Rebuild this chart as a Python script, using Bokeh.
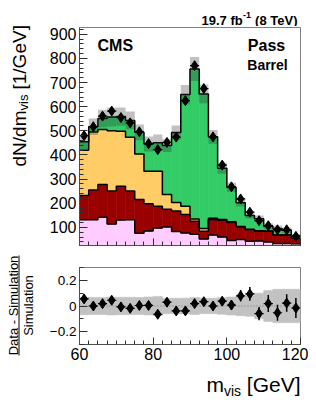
import math
from bokeh.plotting import figure
from bokeh.models import Label, Range1d, FixedTicker
from bokeh.layouts import column, row
from bokeh.embed import file_html
from bokeh.resources import INLINE

# ---------------- data ----------------
bin_lo = [60.0, 62.5, 65.0, 67.5, 70.0, 72.5, 75.0, 77.5, 80.0, 82.5, 85.0, 87.5,
          90.0, 92.5, 95.0, 97.5, 100.0, 102.5, 105.0, 107.5, 110.0, 112.5, 115.0, 117.5]
bin_width = 2.5

data = [480, 517, 561, 582, 555, 533, 496, 447, 422, 452, 474, 625,
        770, 675, 475, 358, 268, 218, 163, 128, 107, 90, 90, 63]
data_err = [14, 14, 15, 15, 15, 15, 14, 13, 13, 13, 14, 16,
            18, 16, 14, 12, 10, 9, 8, 7, 7, 6, 6, 5]

comp_pink = [132, 132, 142, 114, 131, 132, 76, 85, 97, 102, 83, 77,
             72, 52, 68, 60, 46, 50, 43, 44, 40, 33, 33, 32]
comp_red = [100, 123, 136, 137, 139, 119, 140, 113, 91, 73, 85, 76,
            53, 32, 64, 70, 74, 52, 47, 40, 44, 35, 35, 23]
comp_orange = [188, 240, 227, 249, 228, 222, 188, 135, 145, 61, 35, 35,
               10, 11, 6, 3, 3, 2, 2, 2, 1, 1, 1, 1]
comp_green = [35, 22, 46, 57, 61, 70, 90, 112, 118, 203, 290, 462,
              621, 558, 337, 212, 143, 98, 57, 50, 20, 26, 19, 8]

mc_unc_rel = [0.068, 0.066, 0.066, 0.07, 0.068, 0.068, 0.066, 0.07, 0.075, 0.06, 0.06, 0.061,
              0.066, 0.06, 0.06, 0.065, 0.07, 0.075, 0.08, 0.1, 0.12, 0.13, 0.13, 0.13]

y_ticks_main = [100, 200, 300, 400, 500, 600, 700, 800, 900]
x_ticks = [60, 80, 100, 120]
ratio_ticks = [-0.2, 0, 0.2]
ratio_tick_labels = {-0.2: "\u22120.2", 0: "0", 0.2: "0.2"}

# ---------------- derived ----------------
n = len(bin_lo)
bin_hi = [lo + bin_width for lo in bin_lo]
centers = [lo + bin_width / 2 for lo in bin_lo]

FONT = "Liberation Sans"
X_RANGE = (60, 120)
Y_MAIN = (25, 928)
Y_RATIO = (-0.3, 0.3)

# page-pixel geometry
FL, FR = 79, 300          # frame left / right
FT1, FB1 = 27, 245        # main frame top / bottom
FT2, FB2 = 267, 344       # ratio frame top / bottom
LEFT_W = 44               # width of the left text strip
LUMI_H = 26
XL_TOP = 368
PAGE_H = 400
TOTAL_W = 308
RIGHT_W = TOTAL_W - LEFT_W
H1 = 229                  # main figure height (1 + 218 + 10)
H2 = 113                  # ratio figure height (12 + 77 + 24)
XL_H = PAGE_H - XL_TOP
TXT_DY = -3               # empirical baseline correction for Label texts


def text_fig(w, h):
    f = figure(width=w, height=h, x_range=Range1d(0, w), y_range=Range1d(0, h),
               output_backend="svg", toolbar_location=None, min_border=0,
               x_axis_location=None, y_axis_location=None, frame_align=False)
    f.outline_line_color = None
    f.grid.visible = False
    f.background_fill_color = "white"
    f.border_fill_color = "white"
    return f


def strip_text(fig, x_off, y_off, h, px, py, text, size, bold=False, align="left", angle=0.0):
    if angle == 0.0:
        py = py + TXT_DY
    else:
        px = px + TXT_DY
    fig.add_layout(Label(x=px - x_off, y=h - (py - y_off), text=text, text_font=FONT,
                         text_font_size=f"{size}px",
                         text_font_style="bold" if bold else "normal",
                         text_align=align, text_baseline="alphabetic",
                         angle=angle, text_color="black"))


def top_xy(px, py):
    return (X_RANGE[0] + (px - FL) * (X_RANGE[1] - X_RANGE[0]) / (FR - FL),
            Y_MAIN[0] + (FB1 - py) * (Y_MAIN[1] - Y_MAIN[0]) / (FB1 - FT1))


def frame_text(fig, px, py, text, size, bold=False, align="left"):
    x, y = top_xy(px, py + TXT_DY)
    fig.add_layout(Label(x=x, y=y, text=text, text_font=FONT,
                         text_font_size=f"{size}px",
                         text_font_style="bold" if bold else "normal",
                         text_align=align, text_baseline="alphabetic",
                         text_color="black"))


def style_axes(fig):
    fig.xgrid.visible = False
    fig.ygrid.visible = False
    fig.outline_line_color = "#808080"
    fig.outline_line_width = 1
    for ax in (fig.xaxis[0], fig.yaxis[0]):
        ax.axis_line_color = "#505050"
        ax.major_tick_line_color = "#303030"
        ax.minor_tick_line_color = "#303030"
        ax.major_tick_out = 0
        ax.minor_tick_out = 0
        ax.major_label_text_font = FONT
        ax.major_label_text_color = "black"
        ax.major_label_standoff = 3


minor_x = bin_lo + [bin_hi[-1]]

# ---------------- main panel ----------------
p = figure(width=RIGHT_W, height=H1, x_range=Range1d(*X_RANGE), y_range=Range1d(*Y_MAIN),
           output_backend="svg", toolbar_location=None, frame_align=False,
           min_border_left=FL - LEFT_W, min_border_right=TOTAL_W - FR,
           min_border_top=FT1 - LUMI_H, min_border_bottom=H1 - (FB1 - LUMI_H))
style_axes(p)
p.yaxis.ticker = FixedTicker(ticks=y_ticks_main, minor_ticks=list(range(40, 930, 20)))
p.yaxis.major_tick_in = 8
p.yaxis.minor_tick_in = 4
p.yaxis.major_label_text_font_size = "16px"
p.xaxis.ticker = FixedTicker(ticks=x_ticks, minor_ticks=minor_x)
p.xaxis.major_tick_in = 7
p.xaxis.minor_tick_in = 4
p.xaxis.major_label_overrides = {t: "" for t in x_ticks}
p.xaxis.major_label_text_font_size = "1px"
p.xaxis.major_label_standoff = 0

layers = [(comp_pink, "#ffccff"), (comp_red, "#990000"),
          (comp_orange, "#ffcc66"), (comp_green, "#33cc66")]
base = [0.0] * n
tops = []
for vals, col in layers:
    top = [b + v for b, v in zip(base, vals)]
    p.quad(left=bin_lo, right=bin_hi, bottom=base, top=top,
           fill_color=col, line_color=col, line_width=0.6)
    tops.append(top)
    base = top
for top in tops:
    p.step(x=bin_lo + [bin_hi[-1]], y=top + [top[-1]], mode="after",
           line_color="black", line_width=1.5)

total = tops[-1]
band_lo = [t * (1 - u) for t, u in zip(total, mc_unc_rel)]
band_hi = [t * (1 + u) for t, u in zip(total, mc_unc_rel)]
p.quad(left=bin_lo, right=bin_hi, bottom=band_lo, top=band_hi,
       fill_color="#333333", fill_alpha=0.3, line_color=None)

p.segment(x0=centers, y0=[d - e for d, e in zip(data, data_err)],
          x1=centers, y1=[d + e for d, e in zip(data, data_err)],
          line_color="black", line_width=1.5)
p.segment(x0=bin_lo, y0=data, x1=bin_hi, y1=data, line_color="black", line_width=1.2)
p.scatter(centers, data, marker="diamond", size=10, color="black")

frame_text(p, 97, 48, "CMS", 16, bold=True)
frame_text(p, 266, 48, "Pass", 16, bold=True, align="center")
frame_text(p, 267, 67, "Barrel", 14, bold=True, align="center")

# ---------------- ratio panel ----------------
r = figure(width=RIGHT_W, height=H2, x_range=p.x_range, y_range=Range1d(*Y_RATIO),
           output_backend="svg", toolbar_location=None, frame_align=False,
           min_border_left=FL - LEFT_W, min_border_right=TOTAL_W - FR,
           min_border_top=FT2 - (LUMI_H + H1), min_border_bottom=XL_TOP - FB2)
style_axes(r)
r.yaxis.ticker = FixedTicker(ticks=ratio_ticks, minor_ticks=[-0.3, -0.1, 0.1, 0.3])
r.yaxis.major_label_overrides = ratio_tick_labels
r.yaxis.major_tick_in = 8
r.yaxis.minor_tick_in = 4
r.yaxis.major_label_text_font_size = "13.5px"
r.xaxis.ticker = FixedTicker(ticks=x_ticks, minor_ticks=minor_x)
r.xaxis.major_tick_in = 7
r.xaxis.minor_tick_in = 4
r.xaxis.major_label_text_font_size = "16px"

ratio = [d / t - 1 for d, t in zip(data, total)]
ratio_err = [e / t for e, t in zip(data_err, total)]
r.quad(left=bin_lo, right=bin_hi, bottom=[-u for u in mc_unc_rel], top=mc_unc_rel,
       fill_color="#c2c2c2", line_color="#c2c2c2", line_width=0.6)
r.line(x=list(X_RANGE), y=[0, 0], line_color="#777777", line_dash="1 2", line_width=1)
r.segment(x0=centers, y0=[a - e for a, e in zip(ratio, ratio_err)],
          x1=centers, y1=[a + e for a, e in zip(ratio, ratio_err)],
          line_color="black", line_width=1.5)
r.segment(x0=bin_lo, y0=ratio, x1=bin_hi, y1=ratio, line_color="black", line_width=1.2)
r.scatter(centers, ratio, marker="diamond", size=10, color="black")

# ---------------- text strips ----------------
lumi = text_fig(RIGHT_W, LUMI_H)
strip_text(lumi, LEFT_W, 0, LUMI_H, 201, 22.5, "19.7 fb", 13, bold=True)
strip_text(lumi, LEFT_W, 0, LUMI_H, 242.5, 17.5, "-1", 9, bold=True)
strip_text(lumi, LEFT_W, 0, LUMI_H, 297, 22.5, "(8 TeV)", 13, bold=True, align="right")

left = text_fig(LEFT_W, PAGE_H)
strip_text(left, 0, 0, PAGE_H, 22, 166, "dN/dm", 19, angle=math.pi / 2)
strip_text(left, 0, 0, PAGE_H, 25.5, 110, "vis", 13, angle=math.pi / 2)
strip_text(left, 0, 0, PAGE_H, 22, 89, "[1/GeV]", 19, angle=math.pi / 2)
strip_text(left, 0, 0, PAGE_H, 16.3, 305, "Data - Simulation", 13, align="center", angle=math.pi / 2)
strip_text(left, 0, 0, PAGE_H, 31.3, 305, "Simulation", 13, align="center", angle=math.pi / 2)
left.line(x=[18.5, 18.5], y=[PAGE_H - 255, PAGE_H - 355], line_color="black", line_width=1)

xl = text_fig(RIGHT_W, XL_H)
strip_text(xl, LEFT_W, XL_TOP, XL_H, 300, 387, "[GeV]", 21, align="right")
strip_text(xl, LEFT_W, XL_TOP, XL_H, 205.9, 387, "m", 21)
strip_text(xl, LEFT_W, XL_TOP, XL_H, 223.4, 393.5, "vis", 14)

layout = row(left, column(lumi, p, r, xl))
open("out.html", "w").write(file_html(layout, INLINE))
